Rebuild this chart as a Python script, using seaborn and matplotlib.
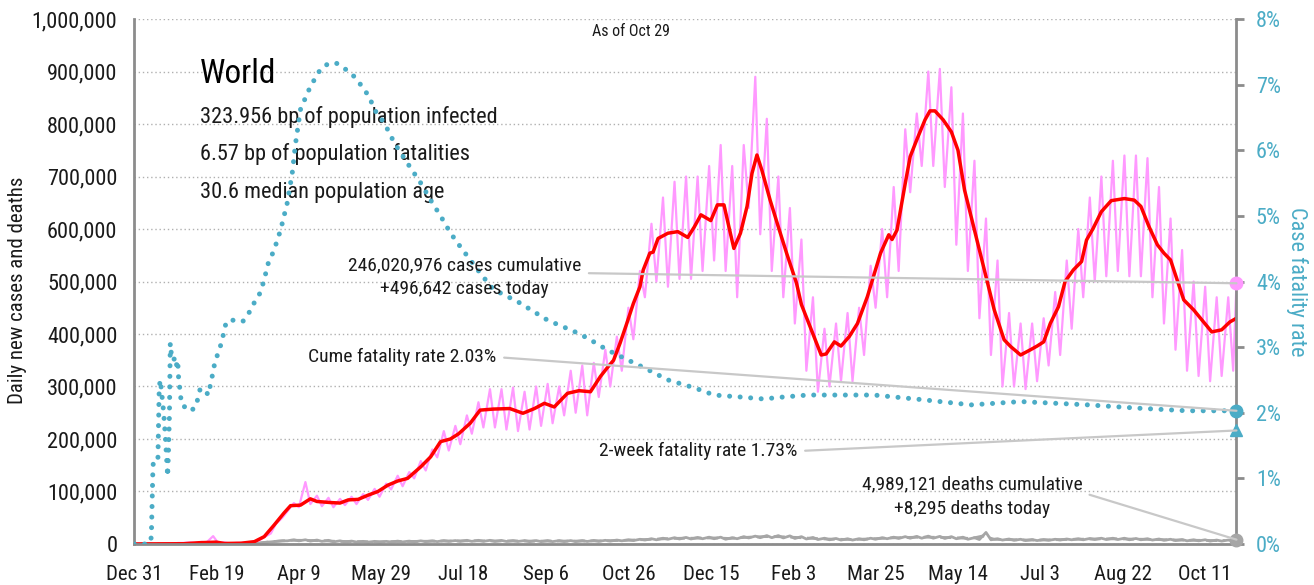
import numpy as np
import pandas as pd
import seaborn as sns
import matplotlib.pyplot as plt
from matplotlib.ticker import FuncFormatter

# days counted from Dec 31 2019, case / death values in thousands
tick_days = [0, 50, 100, 150, 200, 250, 300, 350, 400, 450, 500, 550, 600, 650]
tick_labels = ["Dec 31", "Feb 19", "Apr 9", "May 29", "Jul 18", "Sep 6", "Oct 26",
               "Dec 15", "Feb 3", "Mar 25", "May 14", "Jul 3", "Aug 22", "Oct 11"]

# daily new cases: weekly high (day 7k+6) and weekly low (day 7k+2)
cases_hi = [0, 0, 1, 2, 3, 4, 15, 3, 2, 3, 7, 20, 50, 78, 118, 92, 88, 86, 90, 95,
            105, 115, 130, 137, 158, 180, 215, 225, 245, 270, 295, 295, 298, 290, 300,
            305, 300, 330, 340, 345, 370, 395, 450, 520, 610, 660, 690, 700, 700, 720,
            760, 720, 760, 890, 810, 700, 640, 580, 470, 410, 420, 440, 450, 530, 600,
            680, 790, 820, 900, 905, 870, 820, 730, 620, 540, 440, 420, 420, 430, 480,
            540, 600, 660, 700, 730, 740, 740, 735, 680, 620, 560, 500, 490, 470, 470]
cases_lo = [0, 0, 0, 1, 2, 2, 3, 2, 1, 2, 4, 13, 38, 62, 70, 76, 72, 70, 74, 76,
            84, 90, 104, 110, 125, 140, 165, 178, 190, 210, 222, 222, 218, 215, 218,
            225, 230, 245, 250, 245, 280, 300, 330, 390, 470, 500, 490, 505, 505, 520,
            540, 520, 470, 640, 590, 520, 470, 420, 330, 290, 300, 310, 310, 360, 450,
            470, 520, 670, 720, 720, 680, 570, 520, 430, 360, 300, 300, 295, 310, 340,
            360, 410, 470, 500, 510, 520, 510, 510, 470, 420, 370, 330, 320, 310, 320,
            330]
cases_today = 496.642

# 7-day average of new cases
avg_days = [0, 30, 40, 50, 55, 65, 73, 79, 85, 91, 95, 101, 107, 111, 119, 125, 130,
            136, 142, 148, 154, 160, 166, 174, 180, 186, 192, 197, 204, 210, 218, 228,
            236, 243, 249, 255, 263, 270, 277, 283, 287, 291, 295, 299, 303, 307, 309,
            313, 315, 318, 324, 330, 336, 340, 344, 350, 354, 358, 361, 364, 368, 372,
            375, 378, 381, 386, 391, 396, 402, 405, 411, 417, 420, 425, 429, 434, 439,
            445, 453, 458, 460, 463, 468, 471, 475, 480, 483, 486, 491, 496, 500, 504,
            510, 516, 522, 528, 532, 538, 544, 548, 552, 556, 561, 565, 570, 575, 578,
            582, 587, 593, 601, 607, 611, 616, 621, 625, 629, 633, 637, 643, 649, 654,
            660, 665, 669]
avg_cases = [0, 0.5, 2.5, 3.5, 1, 1.5, 4.4, 14, 36, 59, 73, 74, 86, 81, 79, 78, 84,
             85, 93, 100, 112, 120, 125, 147, 166, 195, 200, 210, 230, 255, 257, 258,
             249, 258, 268, 261, 287, 292, 290, 319, 335, 350, 383, 420, 458, 490, 522,
             554, 556, 582, 592, 595, 584, 604, 627, 616, 646, 646, 604, 563, 592, 643,
             706, 741, 712, 655, 604, 554, 497, 456, 408, 360, 362, 385, 377, 395, 420,
             471, 554, 589, 580, 598, 687, 738, 770, 808, 825, 825, 808, 785, 750, 674,
             598, 522, 446, 389, 376, 360, 370, 377, 385, 420, 452, 500, 522, 538, 579,
             601, 633, 654, 658, 655, 643, 604, 570, 554, 541, 503, 465, 446, 423, 404,
             408, 423, 430]

# daily deaths: weekly high / low
deaths_hi = [0, 0, 0, 0, 0.1, 0.1, 0.2, 0.2, 0.2, 0.5, 1.5, 4, 6, 8, 8, 7.5, 7, 6, 5.5, 5,
             5, 5, 5.5, 5.5, 6, 6, 6.5, 6.5, 7, 7, 7, 6.8, 6.5, 6.5, 6.5, 6.5, 6.5, 6.5,
             6.5, 6.8, 7, 7.5, 8, 9, 10, 11, 12, 12.5, 12.5, 13, 13, 12, 14, 15, 16, 16,
             15.5, 14, 12.5, 11, 10.5, 10, 10, 11, 12, 13, 14, 14.5, 15, 14.5, 14, 13,
             12, 22, 10, 9.5, 9, 8.5, 8.5, 9, 9.5, 10, 10.5, 11, 11, 11, 10.5, 10, 9.5,
             9, 8.5, 8, 8, 7.5, 7.5]
deaths_lo = [0, 0, 0, 0, 0, 0.1, 0.1, 0.1, 0.1, 0.3, 1, 3, 5, 6, 6, 5.5, 5, 4, 4, 3.8,
             3.5, 3.5, 3.8, 4, 4, 4.5, 4.5, 5, 5, 5, 5, 4.8, 4.8, 4.8, 4.5, 4.5, 4.5, 4.6,
             4.6, 4.8, 5, 5.5, 6, 6.5, 7.5, 8, 9, 9.5, 9.5, 10, 10, 9, 10, 11.5, 12, 12,
             11.5, 10.5, 9.5, 8.5, 8, 7.5, 7.5, 8, 9, 10, 10.5, 11, 11, 11, 10.5, 10, 9,
             8.5, 8, 7.5, 7, 6.5, 6.5, 7, 7.5, 8, 8, 8.5, 8.5, 8.5, 8, 8, 7.5, 7, 6.5,
             6, 6, 5.5, 5.5, 5.5]
deaths_today = 8.295

# cumulative case fatality rate, percent
cfr_days = [0, 9, 10.5, 11.5, 12.5, 14.5, 15.3, 16, 17, 18, 19, 20.4, 21, 21.5, 22, 23,
            24.5, 25.5, 26.5, 27, 28.5, 30, 33, 35, 37.5, 40, 42.5, 45, 47, 49, 53, 56,
            60, 66, 71, 73, 76, 79, 81, 85, 89, 93, 96, 98, 101, 103, 107, 113.5, 118,
            122.6, 128.6, 134.7, 139.7, 142.7, 145.8, 152, 158, 166, 174, 180, 186, 192,
            198, 210, 218, 233, 251, 267, 275, 287, 300, 310, 324, 340, 352, 368, 382,
            394, 409, 429, 449, 478, 508, 538, 579, 609, 639, 669]
cfr_pct = [0, 0, 0.1, 1.2, 1.31, 1.31, 2.4, 2.5, 2.25, 2.0, 1.64, 1.03, 1.48, 1.99, 3.06,
           2.8, 2.82, 2.7, 2.8, 2.55, 2.2, 2.09, 2.1, 2.04, 2.09, 2.35, 2.37, 2.27, 2.5,
           2.76, 3.06, 3.39, 3.41, 3.39, 3.57, 3.68, 3.8, 4.02, 4.25, 4.48, 4.79, 5.2,
           5.65, 6.1, 6.62, 6.74, 6.97, 7.25, 7.32, 7.33, 7.23, 7.1, 6.92, 6.82, 6.62,
           6.41, 6.11, 5.8, 5.5, 5.24, 5.0, 4.74, 4.53, 4.13, 3.88, 3.69, 3.41, 3.24,
           3.14, 2.96, 2.8, 2.68, 2.5, 2.38, 2.27, 2.24, 2.21, 2.24, 2.27, 2.27, 2.27,
           2.2, 2.12, 2.17, 2.12, 2.07, 2.03, 2.03]
cfr_now = 2.03
cfr_2wk = 1.73
last_day = 669

# interleave weekly lows and highs into one series
def weekly(hi, lo, today):
    days, vals = [], []
    for k in range(len(lo)):
        days.append(7 * k + 2)
        vals.append(lo[k])
        if k < len(hi):
            days.append(7 * k + 6)
            vals.append(hi[k])
    days = [0] + days + [last_day]
    vals = [0] + vals + [today]
    return pd.DataFrame({"day": days, "value": np.array(vals) * 1000})

daily = weekly(cases_hi, cases_lo, cases_today)
deaths = weekly(deaths_hi, deaths_lo, deaths_today)
deaths_avg = pd.DataFrame({"day": [7 * k + 4 for k in range(len(deaths_hi))],
                           "value": (np.array(deaths_hi) + np.array(deaths_lo)[:len(deaths_hi)]) / 2 * 1000})
avg = pd.DataFrame({"day": avg_days, "value": np.array(avg_cases) * 1000})
cfr = pd.DataFrame({"day": cfr_days, "value": cfr_pct})

pink = "#ff99ff"
teal = "#4bacc6"
grey = "#a6a6a6"
axis_grey = "#8c8c8c"
ink = "#1a1a1a"

sns.set_theme(style="white")
plt.rcParams["font.family"] = ["Roboto Condensed", "DejaVu Sans"]

fig = plt.figure(figsize=(13.14, 5.85), dpi=100)
ax = fig.add_axes([0.102, 0.0701, 0.839, 0.8974])

sns.lineplot(data=deaths_avg, x="day", y="value", ax=ax, color=grey, lw=2,
             linestyle=(0, (4, 2)))
sns.lineplot(data=deaths, x="day", y="value", ax=ax, color=grey, lw=2)
sns.lineplot(data=daily, x="day", y="value", ax=ax, color=pink, lw=1.6)
sns.lineplot(data=avg, x="day", y="value", ax=ax, color="#ff0000", lw=2.5)

ax.set_xlim(0, last_day)
ax.set_ylim(0, 1000000)
ax.set_yticks(np.arange(0, 1000001, 100000))
ax.yaxis.set_major_formatter(FuncFormatter(lambda v, p: f"{int(v):,}"))
ax.set_xticks(tick_days)
ax.set_xticklabels(tick_labels)
ax.yaxis.grid(True, linestyle=(0, (1, 2)), color="#b0b0b0", lw=1)
ax.set_axisbelow(True)
for s in ["top", "right"]:
    ax.spines[s].set_visible(False)
for s in ["left", "bottom"]:
    ax.spines[s].set_color(axis_grey)
    ax.spines[s].set_linewidth(2)
ax.tick_params(axis="y", length=0, labelsize=16, pad=12, colors=ink)
ax.tick_params(axis="x", direction="out", length=6, width=2, color=axis_grey,
               labelsize=15, pad=9, labelcolor=ink)
ax.set_xlabel("")
ax.set_ylabel("Daily new cases and deaths", fontsize=15, color=ink)
ax.yaxis.set_label_coords(-0.097, 0.484)

ax2 = ax.twinx()
sns.lineplot(data=cfr, x="day", y="value", ax=ax2, color=teal, lw=3.6,
             linestyle=(0, (0.01, 2.1)))
ax2.get_lines()[-1].set_dash_capstyle("round")
ax2.set_ylim(0, 8)
ax2.set_yticks(range(0, 9))
ax2.yaxis.set_major_formatter(FuncFormatter(lambda v, p: f"{int(v)}%"))
for s in ["top", "left", "bottom"]:
    ax2.spines[s].set_visible(False)
ax2.spines["right"].set_color(axis_grey)
ax2.spines["right"].set_linewidth(2)
ax2.tick_params(axis="y", direction="out", length=6, width=2, color=axis_grey,
                labelsize=16, pad=8, labelcolor=teal)
ax2.set_xlabel("")
ax2.set_ylabel("Case fatality rate", fontsize=16, color=teal, rotation=270, va="center")
ax2.yaxis.set_label_coords(1.055, 0.5)

# end markers
ax2.plot([last_day], [cases_today * 1000 / 125000], "o", color=pink, ms=9, clip_on=False, zorder=6)
ax2.plot([last_day], [cfr_now], "o", color=teal, ms=9, clip_on=False, zorder=6)
ax2.plot([last_day], [cfr_2wk], "^", color=teal, ms=9, clip_on=False, zorder=6)
ax2.plot([last_day], [deaths_today * 1000 / 125000], "o", color=grey, ms=9, clip_on=False, zorder=6)

line_kw = dict(arrowstyle="-", color="#c8c8c8", lw=1.6, shrinkA=3, shrinkB=0)
ax2.annotate("246,020,976 cases cumulative\n+496,642 cases today",
             xy=(last_day, cases_today * 1000 / 125000), xycoords="data",
             xytext=(0.300, 0.508), textcoords="axes fraction",
             ha="center", va="center", fontsize=14, linespacing=1.45, color=ink,
             arrowprops=dict(line_kw, relpos=(1, 0.6)), zorder=7)
ax2.annotate("Cume fatality rate 2.03%", xy=(last_day, cfr_now),
             xytext=(0.329, 0.356), textcoords="axes fraction",
             ha="right", va="center", fontsize=14, color=ink,
             arrowprops=dict(line_kw, relpos=(1, 0.5)), zorder=7)
ax2.annotate("2-week fatality rate 1.73%", xy=(last_day, cfr_2wk),
             xytext=(0.602, 0.177), textcoords="axes fraction",
             ha="right", va="center", fontsize=14, color=ink,
             arrowprops=dict(line_kw, relpos=(1, 0.5)), zorder=7)
ax2.annotate("4,989,121 deaths cumulative\n+8,295 deaths today",
             xy=(last_day, deaths_today * 1000 / 125000),
             xytext=(0.760, 0.090), textcoords="axes fraction",
             ha="center", va="center", fontsize=14, linespacing=1.45, color=ink,
             arrowprops=dict(line_kw, relpos=(1, 0.6)), zorder=7)

ax.text(0.0599, 0.895, "World", transform=ax.transAxes, fontsize=24, va="center",
        ha="left", color="#000000")
ax.text(0.0599, 0.814, "323.956 bp of population infected", transform=ax.transAxes,
        fontsize=16, va="center", ha="left", color=ink)
ax.text(0.0599, 0.742, "6.57 bp of population fatalities", transform=ax.transAxes,
        fontsize=16, va="center", ha="left", color=ink)
ax.text(0.0599, 0.669, "30.6 median population age", transform=ax.transAxes,
        fontsize=16, va="center", ha="left", color=ink)
ax.text(0.4508, 0.977, "As of Oct 29", transform=ax.transAxes, fontsize=11.5,
        va="center", ha="center", color=ink)

fig.savefig("out.png", dpi=100)
